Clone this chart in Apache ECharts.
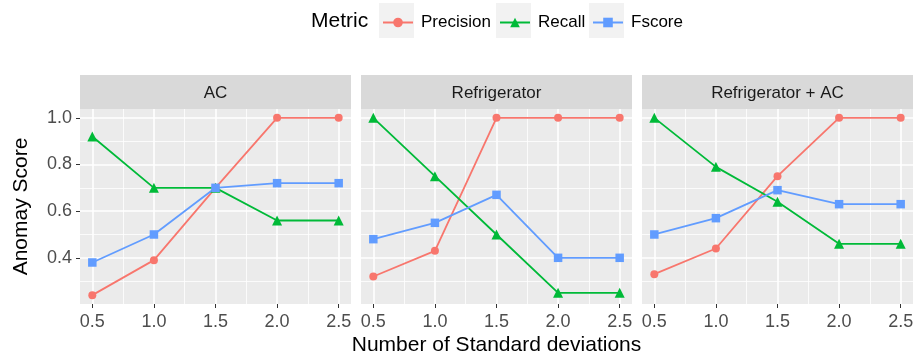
<!DOCTYPE html>
<html>
<head>
<meta charset="utf-8">
<script src="https://cdn.jsdelivr.net/npm/echarts@6/dist/echarts.min.js"></script>
<style>html,body{margin:0;padding:0;background:#fff}#c{width:915px;height:356px}</style>
</head>
<body>
<div id="c"></div>
<script>
const xValues = [0.5, 1.0, 1.5, 2.0, 2.5];
const panels = ['AC', 'Refrigerator', 'Refrigerator + AC'];
const metrics = ['Precision', 'Recall', 'Fscore'];

const precisionAC = [0.24, 0.39, 0.70, 1.00, 1.00];
const recallAC    = [0.92, 0.70, 0.70, 0.56, 0.56];
const fscoreAC    = [0.38, 0.50, 0.70, 0.72, 0.72];

const precisionRef = [0.32, 0.43, 1.00, 1.00, 1.00];
const recallRef    = [1.00, 0.75, 0.50, 0.25, 0.25];
const fscoreRef    = [0.48, 0.55, 0.67, 0.40, 0.40];

const precisionRefAC = [0.33, 0.44, 0.75, 1.00, 1.00];
const recallRefAC    = [1.00, 0.79, 0.64, 0.46, 0.46];
const fscoreRefAC    = [0.50, 0.57, 0.69, 0.63, 0.63];

const xTicks = [0.5, 1.0, 1.5, 2.0, 2.5];
const xMinorTicks = [0.75, 1.25, 1.75, 2.25];
const yTicks = [0.4, 0.6, 0.8, 1.0];
const yMinorTicks = [0.3, 0.5, 0.7, 0.9];

const panelData = [
  [precisionAC, recallAC, fscoreAC],
  [precisionRef, recallRef, fscoreRef],
  [precisionRefAC, recallRefAC, fscoreRefAC]
];

const colors = ['#F8766D', '#00BA38', '#619CFF'];
const symbols = ['circle', 'triangle', 'rect'];
const symbolSizes = [8, 10, 8.5];

const GL = 80, GW = 271, GSTEP = 281, GT = 109, GH = 195;
const STRIP_TOP = 75;
const FONT = 'Liberation Sans, Arial, sans-serif';

const grids = [], xAxes = [], yAxes = [], series = [], graphics = [];

panels.forEach((p, i) => {
  const left = GL + i * GSTEP;
  grids.push({left: left, top: GT, width: GW, height: GH, show: true,
    backgroundColor: '#EBEBEB', borderWidth: 0, containLabel: false, outerBoundsMode: 'none'});
  xAxes.push({
    type: 'value', gridIndex: i, min: 0.4, max: 2.6,
    axisLine: {show: false},
    axisTick: {show: true, customValues: xTicks, length: 4, lineStyle: {color: '#333333', width: 1}},
    axisLabel: {show: true, customValues: xTicks, margin: 9, color: '#4D4D4D',
      fontFamily: FONT, fontSize: 18,
      formatter: v => Number(v).toFixed(1)},
    splitLine: {show: false}
  });
  yAxes.push({
    type: 'value', gridIndex: i, min: 0.202, max: 1.038,
    axisLine: {show: false},
    axisTick: {show: i === 0, customValues: yTicks, length: 4, lineStyle: {color: '#333333', width: 1}},
    axisLabel: {show: i === 0, customValues: yTicks, margin: 8, color: '#4D4D4D',
      fontFamily: FONT, fontSize: 18,
      formatter: v => Number(v).toFixed(1)},
    splitLine: {show: false},
    name: i === 0 ? 'Anomay Score' : '',
    nameLocation: 'middle', nameGap: 48,
    nameTextStyle: {color: '#000', fontSize: 21, fontFamily: FONT}
  });
  const ml = [];
  xMinorTicks.forEach(v => ml.push({xAxis: v, lineStyle: {width: 0.8}}));
  yMinorTicks.forEach(v => ml.push({yAxis: v, lineStyle: {width: 0.8}}));
  xTicks.forEach(v => ml.push({xAxis: v, lineStyle: {width: 1.6}}));
  yTicks.forEach(v => ml.push({yAxis: v, lineStyle: {width: 1.6}}));
  series.push({
    type: 'line', name: '_grid' + i, xAxisIndex: i, yAxisIndex: i, data: [], z: 1,
    silent: true,
    markLine: {silent: true, symbol: 'none', animation: false, label: {show: false},
      lineStyle: {color: '#FFFFFF', type: 'solid'}, emphasis: {disabled: true}, data: ml}
  });
  metrics.forEach((m, k) => {
    series.push({
      type: 'line', name: m, xAxisIndex: i, yAxisIndex: i, z: 10,
      data: xValues.map((x, j) => [x, panelData[i][k][j]]),
      symbol: symbols[k], symbolSize: symbolSizes[k], showSymbol: true,
      lineStyle: {color: colors[k], width: 1.8},
      itemStyle: {color: colors[k]},
      emphasis: {disabled: true}
    });
  });
  graphics.push({type: 'rect', left: left, top: STRIP_TOP, silent: true,
    shape: {width: GW, height: GT - STRIP_TOP}, style: {fill: '#D9D9D9'}});
  graphics.push({type: 'text', x: left + GW / 2, y: STRIP_TOP + (GT - STRIP_TOP) / 2 + 1, silent: true,
    style: {text: p, align: 'center', verticalAlign: 'middle', fill: '#1A1A1A',
      font: '17px "Liberation Sans", Arial, sans-serif'}});
});

// x axis title (centred under the whole panel row)
graphics.push({type: 'text', x: GL + (3 * GW + 2 * (GSTEP - GW)) / 2, y: 345, silent: true,
  style: {text: 'Number of Standard deviations', align: 'center', verticalAlign: 'middle', fill: '#000',
    font: '21px "Liberation Sans", Arial, sans-serif'}});

// legend key boxes and title
[379, 496, 589].forEach(x => graphics.push({type: 'rect', left: x, top: 3, silent: true, z: -1,
  shape: {width: 35, height: 35}, style: {fill: '#F2F2F2'}}));
graphics.push({type: 'text', x: 311, y: 21.5, silent: true,
  style: {text: 'Metric', align: 'left', verticalAlign: 'middle', fill: '#000',
    font: '21px "Liberation Sans", Arial, sans-serif'}});

const legendLefts = [382, 499, 592];
const legends = metrics.map((m, k) => ({
  data: [m], left: legendLefts[k], top: 14, padding: 0, itemWidth: 30, itemHeight: 12,
  selectedMode: false,
  textStyle: {color: '#000', fontSize: 17, fontFamily: FONT, padding: [0, 0, 0, 3]}
}));

const chart = echarts.init(document.getElementById('c'), null, {renderer: 'canvas'});
chart.setOption({
  animation: false,
  backgroundColor: '#FFFFFF',
  grid: grids, xAxis: xAxes, yAxis: yAxes, series: series,
  legend: legends,
  graphic: graphics
});
</script>
</body>
</html>
